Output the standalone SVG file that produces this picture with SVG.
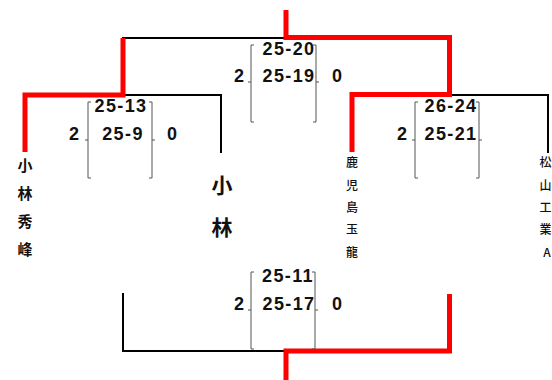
<svg xmlns="http://www.w3.org/2000/svg" width="552" height="380" viewBox="0 0 552 380">
<style>
.blk{fill:none;stroke:#000;stroke-width:2;stroke-linecap:square}
.red{fill:none;stroke:#ff0000;stroke-width:5;stroke-linejoin:miter;stroke-linecap:butt}
.brk{fill:none;stroke:#555;stroke-width:1}
.sc{font-family:"Liberation Sans",Arial,sans-serif;font-weight:bold;font-size:18px;fill:#111;text-anchor:middle;letter-spacing:1.4px}
.n{font-family:"Liberation Sans",Arial,sans-serif;font-weight:bold;font-size:18px;fill:#111;text-anchor:middle}
.tl{font-family:"Noto Sans CJK JP","Liberation Sans",sans-serif;font-weight:bold;font-size:15px;fill:#111;text-anchor:middle}
.ts{font-family:"Noto Sans CJK JP","Liberation Sans",sans-serif;font-weight:500;font-size:12px;fill:#111;text-anchor:middle}
.tc{font-family:"Noto Sans CJK JP","Liberation Sans",sans-serif;font-weight:bold;font-size:21px;fill:#111;text-anchor:middle}
</style>
<rect width="552" height="380" fill="#fff"/>
<g id="connectors">
<path class="blk" d="M123,38H286"/>
<path class="blk" d="M123,95H221V152"/>
<path class="blk" d="M449,95H548V152"/>
<path class="blk" d="M123,294V351H286"/>
<path class="red" d="M286,10V37.5H449.5V94.5H352V152"/>
<path class="red" d="M123,38V95H25V152"/>
<path class="red" d="M286,380V351H449.5V294"/>
</g>
<g id="team-kobayashi-shuho">
<text class="tl" x="25" y="171">小</text>
<text class="tl" x="25" y="199">林</text>
<text class="tl" x="25" y="227">秀</text>
<text class="tl" x="25" y="255">峰</text>
</g>
<g id="team-kobayashi">
<text class="tc" x="222" y="193">小</text>
<text class="tc" x="222" y="235">林</text>
</g>
<g id="team-kagoshima-gyokuryu">
<text class="ts" x="352" y="167">鹿</text>
<text class="ts" x="352" y="189.5">児</text>
<text class="ts" x="352" y="212">島</text>
<text class="ts" x="352" y="234">玉</text>
<text class="ts" x="352" y="257">龍</text>
</g>
<g id="team-matsuyama-kogyo-a">
<text class="ts" x="545.5" y="167">松</text>
<text class="ts" x="545.5" y="189.5">山</text>
<text class="ts" x="545.5" y="212">工</text>
<text class="ts" x="545.5" y="234">業</text>
<text class="ts" x="547" y="257">A</text>
</g>
<g id="score-left">
<path class="brk" d="M91,102H88V178H91M88,140H85M149,102H152V178H149M152,140H155"/>
<text class="n" x="74" y="140">2</text>
<text class="sc" x="121" y="112">25-13</text>
<text class="sc" x="123" y="140">25-9</text>
<text class="n" x="172" y="140">0</text>
</g>
<g id="score-top">
<path class="brk" d="M254,45H251V122H254M251,82H248M313,45H316V122H313M316,82H319"/>
<text class="n" x="239" y="82">2</text>
<text class="sc" x="289" y="55">25-20</text>
<text class="sc" x="289" y="82">25-19</text>
<text class="n" x="337" y="82">0</text>
</g>
<g id="score-right">
<path class="brk" d="M418,102H415V178H418M415,140H412M476,102H479V178H476M479,140H482"/>
<text class="n" x="402" y="140">2</text>
<text class="sc" x="451" y="112">26-24</text>
<text class="sc" x="451" y="140">25-21</text>
</g>
<g id="score-bottom">
<path class="brk" d="M254,272H251V349H254M251,310H248M312,272H315V349H312M315,310H318"/>
<text class="n" x="239" y="310">2</text>
<text class="sc" x="288" y="282">25-11</text>
<text class="sc" x="289" y="310">25-17</text>
<text class="n" x="337" y="310">0</text>
</g>
</svg>
